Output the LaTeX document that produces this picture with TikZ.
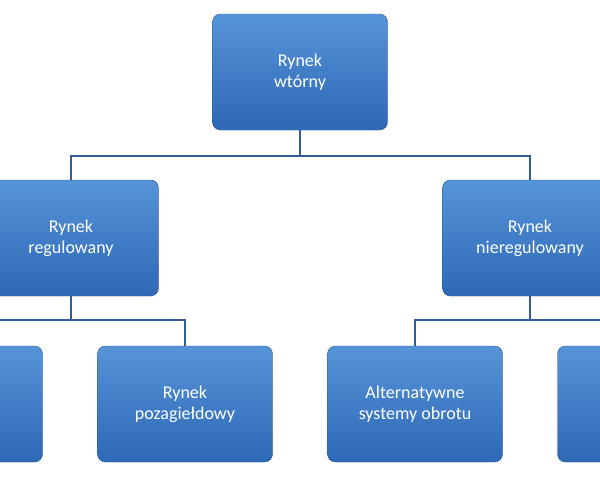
\documentclass[tikz,border=0pt]{standalone}
\usepackage{fontspec}
\setmainfont{Carlito}
\definecolor{boxtop}{RGB}{86,148,216}
\definecolor{boxbot}{RGB}{46,104,182}
\definecolor{linkcol}{RGB}{52,92,150}
\begin{document}
\begin{tikzpicture}
        [x=1pt,y=-1pt,
        every node/.style={draw=boxbot!80!black,rounded corners=8pt,top color=boxtop,bottom color=boxbot,
          text=white,align=center,minimum width=175pt,minimum height=116pt,font=\fontsize{18}{21}\selectfont},
        link/.style={line width=2.5pt, linkcol}]

        \clip (0,0) rectangle (600,480);

        \node (top) at (300, 72) {Rynek\\wtórny};
        \node (reg) at (71, 238) {Rynek\\regulowany};
        \node (nreg) at (530, 238) {Rynek\\nieregulowany};
        \node (gield) at (-45, 404) {};
        \node (poza) at (185, 404) {Rynek\\pozagiełdowy};
        \node (alt) at (415, 404) {Alternatywne\\systemy obrotu};
        \node (inne) at (645, 404) {};

        \draw[link] (top.south) -- ++(0,26) -| (reg.north);
        \draw[link] (top.south) -- ++(0,26) -| (nreg.north);
        \draw[link] (reg.south) -- ++(0,24) -| (gield.north);
        \draw[link] (reg.south) -- ++(0,24) -| (poza.north);
        \draw[link] (nreg.south) -- ++(0,24) -| (alt.north);
        \draw[link] (nreg.south) -- ++(0,24) -| (inne.north);
      \end{tikzpicture}
\end{document}
